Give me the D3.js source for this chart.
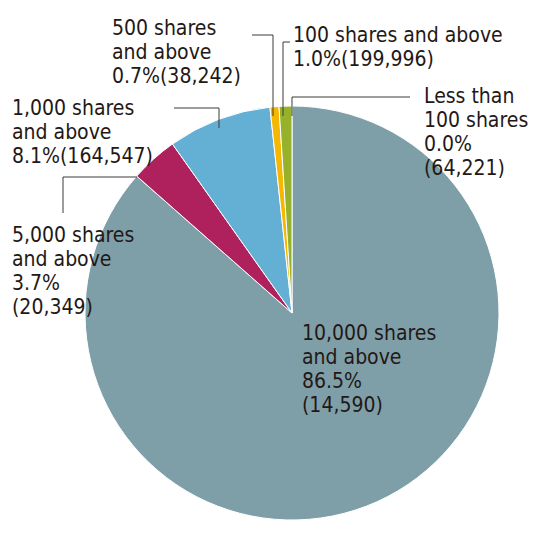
<!DOCTYPE html>
<html><head><meta charset="utf-8">
<script src="https://cdn.jsdelivr.net/npm/d3@7"></script>
<style>body{margin:0;background:#fff}text{font-family:"DejaVu Sans Condensed","DejaVu Sans",sans-serif;font-size:21px;fill:#231815}</style>
</head><body><svg id="c" width="560" height="539"></svg>
<script>
// clockwise from 12 o'clock
var categories = ['Less than 100 shares', '10,000 shares and above', '5,000 shares and above', '1,000 shares and above', '500 shares and above', '100 shares and above'];
var percents = [0.0, 86.5, 3.7, 8.1, 0.7, 1.0];
var holders = ['64,221', '14,590', '20,349', '164,547', '38,242', '199,996'];
var colors = ['#c0c0c0', '#7f9fa8', '#ae215c', '#64b0d5', '#f6b700', '#96b22a'];

var labelLines = [
  ['Less than', '100 shares', '0.0%', '(64,221)'],
  ['10,000 shares', 'and above', '86.5%', '(14,590)'],
  ['5,000 shares', 'and above', '3.7%', '(20,349)'],
  ['1,000 shares', 'and above', '8.1%(164,547)'],
  ['500 shares', 'and above', '0.7%(38,242)'],
  ['100 shares and above', '1.0%(199,996)']
];
var labelPos = [[424, 103], [302, 340], [12, 242], [12, 115], [112, 35], [293, 42]];
// leader lines as polylines (label side -> slice)
var leaders = [
  [[410, 97], [292, 97], [292, 116]],
  null,
  [[137, 177], [63, 177], [63, 213]],
  [[174, 108], [219, 108], [219, 128]],
  [[252, 35], [273, 35], [273, 116]],
  [[290, 42], [283, 42], [283, 116]]
];

var cx = 292, cy = 313, r = 207;
var svg = d3.select('#c');
var pie = d3.pie().sort(null).value(function(d) { return d; });
var arc = d3.arc().innerRadius(0).outerRadius(r);

svg.append('g').attr('transform', 'translate(' + cx + ',' + cy + ')')
  .selectAll('path').data(pie(percents)).enter().append('path')
  .attr('d', arc)
  .attr('fill', function(d, i) { return colors[i]; })
  .attr('stroke', '#fff').attr('stroke-width', 1);

leaders.forEach(function(pts) {
  if (!pts) return;
  svg.append('path').attr('d', d3.line()(pts))
    .attr('fill', 'none').attr('stroke', '#3e3a39').attr('stroke-width', 1);
});

labelLines.forEach(function(lines, i) {
  var t = svg.append('text').attr('x', labelPos[i][0]).attr('y', labelPos[i][1]);
  lines.forEach(function(s, j) {
    t.append('tspan').attr('x', labelPos[i][0]).attr('dy', j ? 24 : 0).text(s);
  });
});
</script></body></html>
